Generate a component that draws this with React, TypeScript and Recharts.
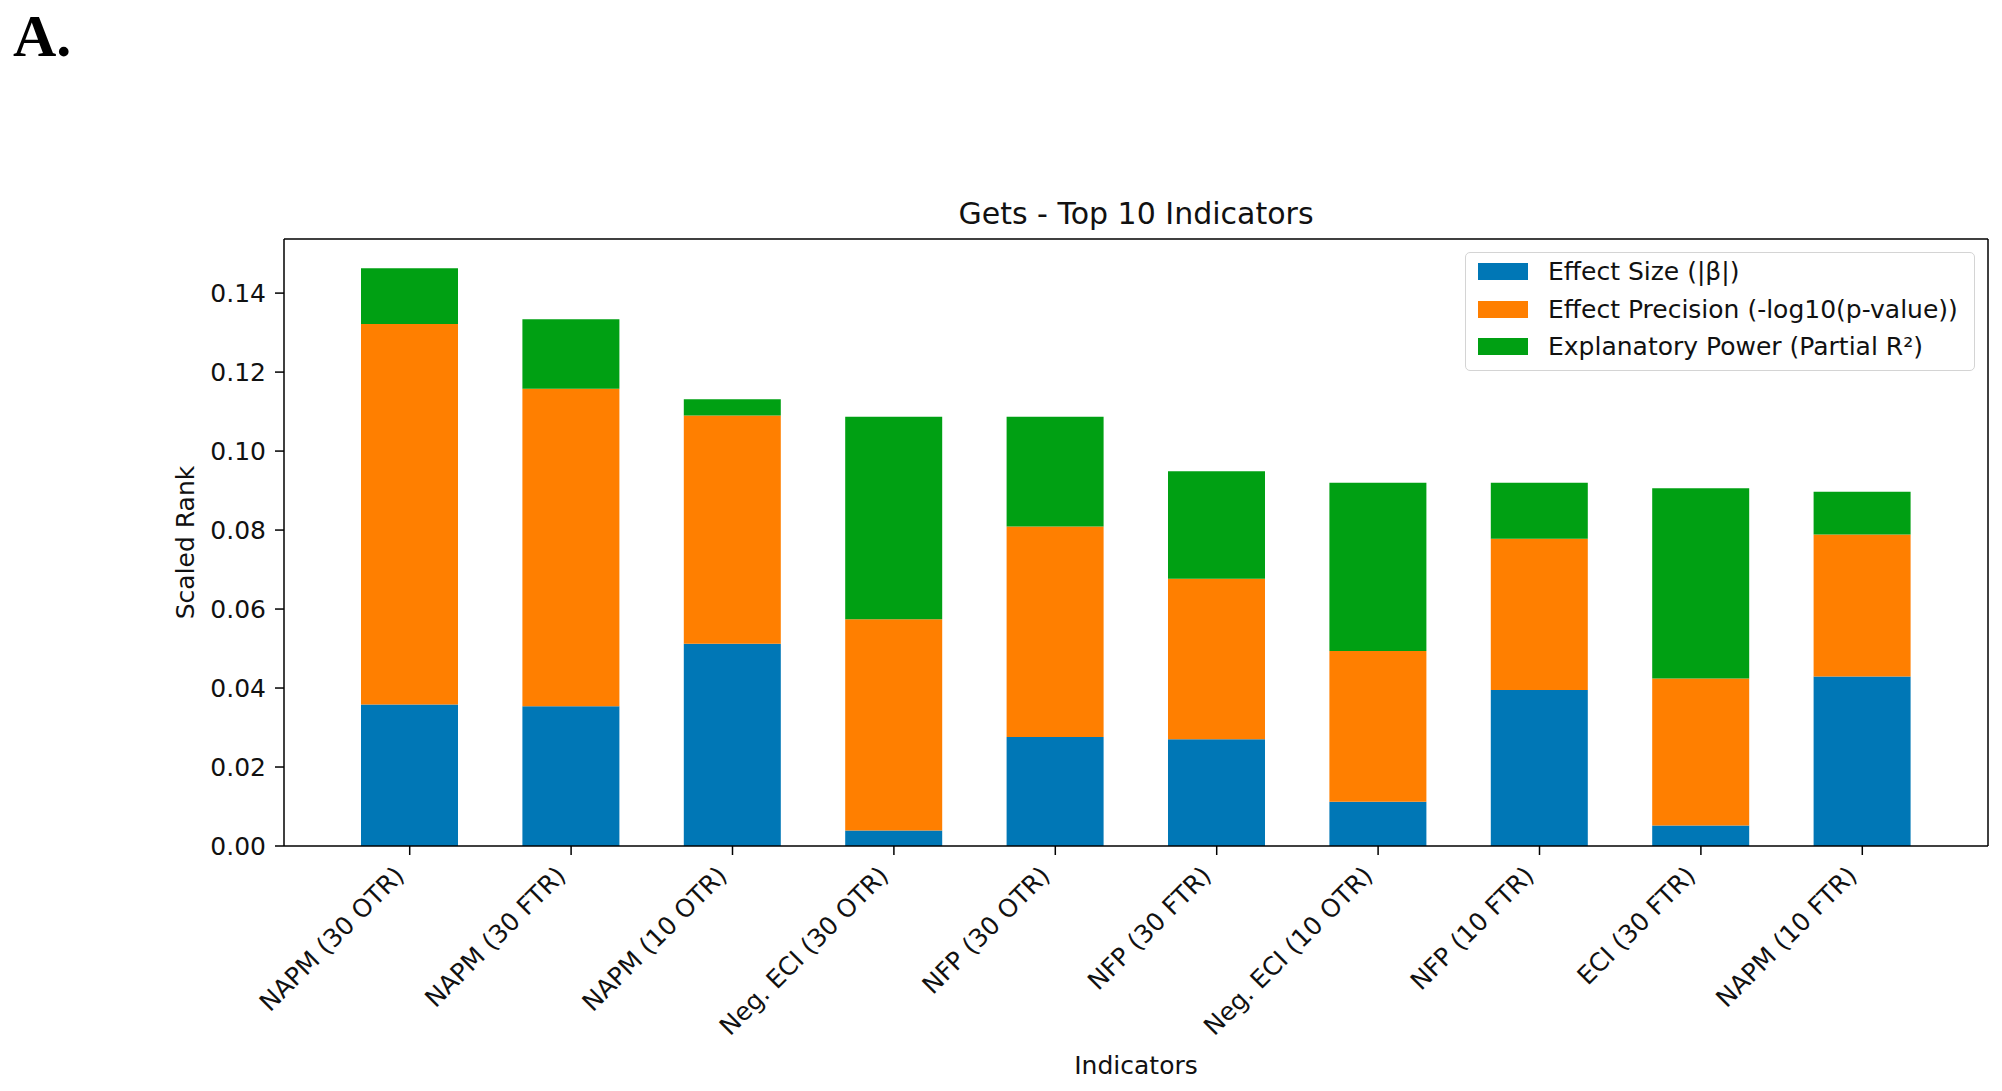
import { BarChart, Bar, XAxis, YAxis, Legend, CartesianGrid } from "recharts";

const indicators = [
  "NAPM (30 OTR)",
  "NAPM (30 FTR)",
  "NAPM (10 OTR)",
  "Neg. ECI (30 OTR)",
  "NFP (30 OTR)",
  "NFP (30 FTR)",
  "Neg. ECI (10 OTR)",
  "NFP (10 FTR)",
  "ECI (30 FTR)",
  "NAPM (10 FTR)",
];
const effectSize = [0.0358, 0.0354, 0.0512, 0.0039, 0.0276, 0.027, 0.0112, 0.0395, 0.0052, 0.0429];
const effectPrecision = [0.0964, 0.0804, 0.0578, 0.0535, 0.0533, 0.0407, 0.0382, 0.0383, 0.0372, 0.036];
const explanatoryPower = [0.0141, 0.0176, 0.0041, 0.0513, 0.0278, 0.0272, 0.0426, 0.0142, 0.0482, 0.0108];
const yTicks = [0, 0.02, 0.04, 0.06, 0.08, 0.1, 0.12, 0.14];

const SERIES = [
  { key: "size", name: "Effect Size (|β|)", color: "#0077b6" },
  { key: "precision", name: "Effect Precision (-log10(p-value))", color: "#ff7f00" },
  { key: "power", name: "Explanatory Power (Partial R²)", color: "#00a013" },
];

const data = indicators.map((name, i) => ({
  name,
  size: effectSize[i],
  precision: effectPrecision[i],
  power: explanatoryPower[i],
}));

const FONT = "'DejaVu Sans', sans-serif";
const INK = "#111";

function XTick({ x, y, payload }: { x?: number; y?: number; payload?: { value: string } }) {
  const px = (x ?? 0) - 4;
  const py = (y ?? 0) + 22;
  return (
    <text
      x={px}
      y={py}
      textAnchor="end"
      transform={`rotate(-45, ${px}, ${py})`}
      fontSize={25}
      fontFamily={FONT}
      fill={INK}
    >
      {payload?.value}
    </text>
  );
}

function LegendBox() {
  return (
    <div
      style={{
        background: "#fff",
        border: "1.5px solid #d4d4d4",
        borderRadius: 5,
        padding: "0 0 4px 12px",
        boxSizing: "border-box",
        width: 510,
        fontFamily: FONT,
        fontSize: 25,
        color: INK,
      }}
    >
      {SERIES.map((s) => (
        <div key={s.key} style={{ display: "flex", alignItems: "center", height: 37.5 }}>
          <span style={{ width: 50, height: 17, background: s.color, marginRight: 20 }} />
          <span style={{ whiteSpace: "nowrap" }}>{s.name}</span>
        </div>
      ))}
    </div>
  );
}

// top and right edges of the axes box, taken from the chart's own offset
const frameTop = (p: { offset: { top: number } }) => [p.offset.top];
const frameRight = (p: { offset: { left: number; width: number } }) => [p.offset.left + p.offset.width];

export default function App() {
  return (
    <div
      style={{
        position: "absolute",
        left: 0,
        top: 0,
        width: 2002,
        height: 1091,
        background: "#fff",
        fontFamily: FONT,
      }}
    >
      <div
        style={{
          position: "absolute",
          left: 13,
          top: 0,
          fontFamily: "'Liberation Serif', serif",
          fontWeight: "bold",
          fontSize: 60,
          lineHeight: "72px",
          color: "#000",
        }}
      >
        A.
      </div>
      <div
        style={{
          position: "absolute",
          left: 284,
          width: 1704,
          top: 194,
          textAlign: "center",
          fontSize: 30,
          color: INK,
          lineHeight: "40px",
        }}
      >
        Gets - Top 10 Indicators
      </div>
      <BarChart
        width={2002}
        height={1091}
        data={data}
        margin={{ top: 239, right: 14, left: 174, bottom: 5 }}
        barSize={97}
      >
        <CartesianGrid
          stroke="#000"
          strokeWidth={1.5}
          horizontalCoordinatesGenerator={frameTop}
          verticalCoordinatesGenerator={frameRight}
        />
        <XAxis
          dataKey="name"
          height={240}
          padding={{ left: 45, right: 45 }}
          interval={0}
          tickSize={9}
          tickMargin={0}
          tick={<XTick />}
          tickLine={{ stroke: "#000", strokeWidth: 1.5 }}
          axisLine={{ stroke: "#000", strokeWidth: 1.5 }}
          label={{
            value: "Indicators",
            position: "insideBottom",
            offset: 12,
            fontSize: 25,
            fontFamily: FONT,
            fill: INK,
          }}
        />
        <YAxis
          width={110}
          domain={[0, 0.1537]}
          ticks={yTicks}
          interval={0}
          tickFormatter={(v: number) => v.toFixed(2)}
          tickSize={9}
          tickMargin={9}
          tick={{ fontSize: 25, fontFamily: FONT, fill: INK }}
          tickLine={{ stroke: "#000", strokeWidth: 1.5 }}
          axisLine={{ stroke: "#000", strokeWidth: 1.5 }}
          label={{
            value: "Scaled Rank",
            angle: -90,
            position: "insideLeft",
            offset: 11,
            fontSize: 25,
            fontFamily: FONT,
            fill: INK,
            style: { textAnchor: "middle" },
          }}
        />
        <Legend
          layout="vertical"
          align="center"
          verticalAlign="middle"
          wrapperStyle={{ position: "absolute", left: 1465, top: 252, width: 510 }}
          content={() => <LegendBox />}
        />
        {SERIES.map((s) => (
          <Bar
            key={s.key}
            dataKey={s.key}
            name={s.name}
            stackId="a"
            fill={s.color}
            isAnimationActive={false}
          />
        ))}
      </BarChart>
    </div>
  );
}
